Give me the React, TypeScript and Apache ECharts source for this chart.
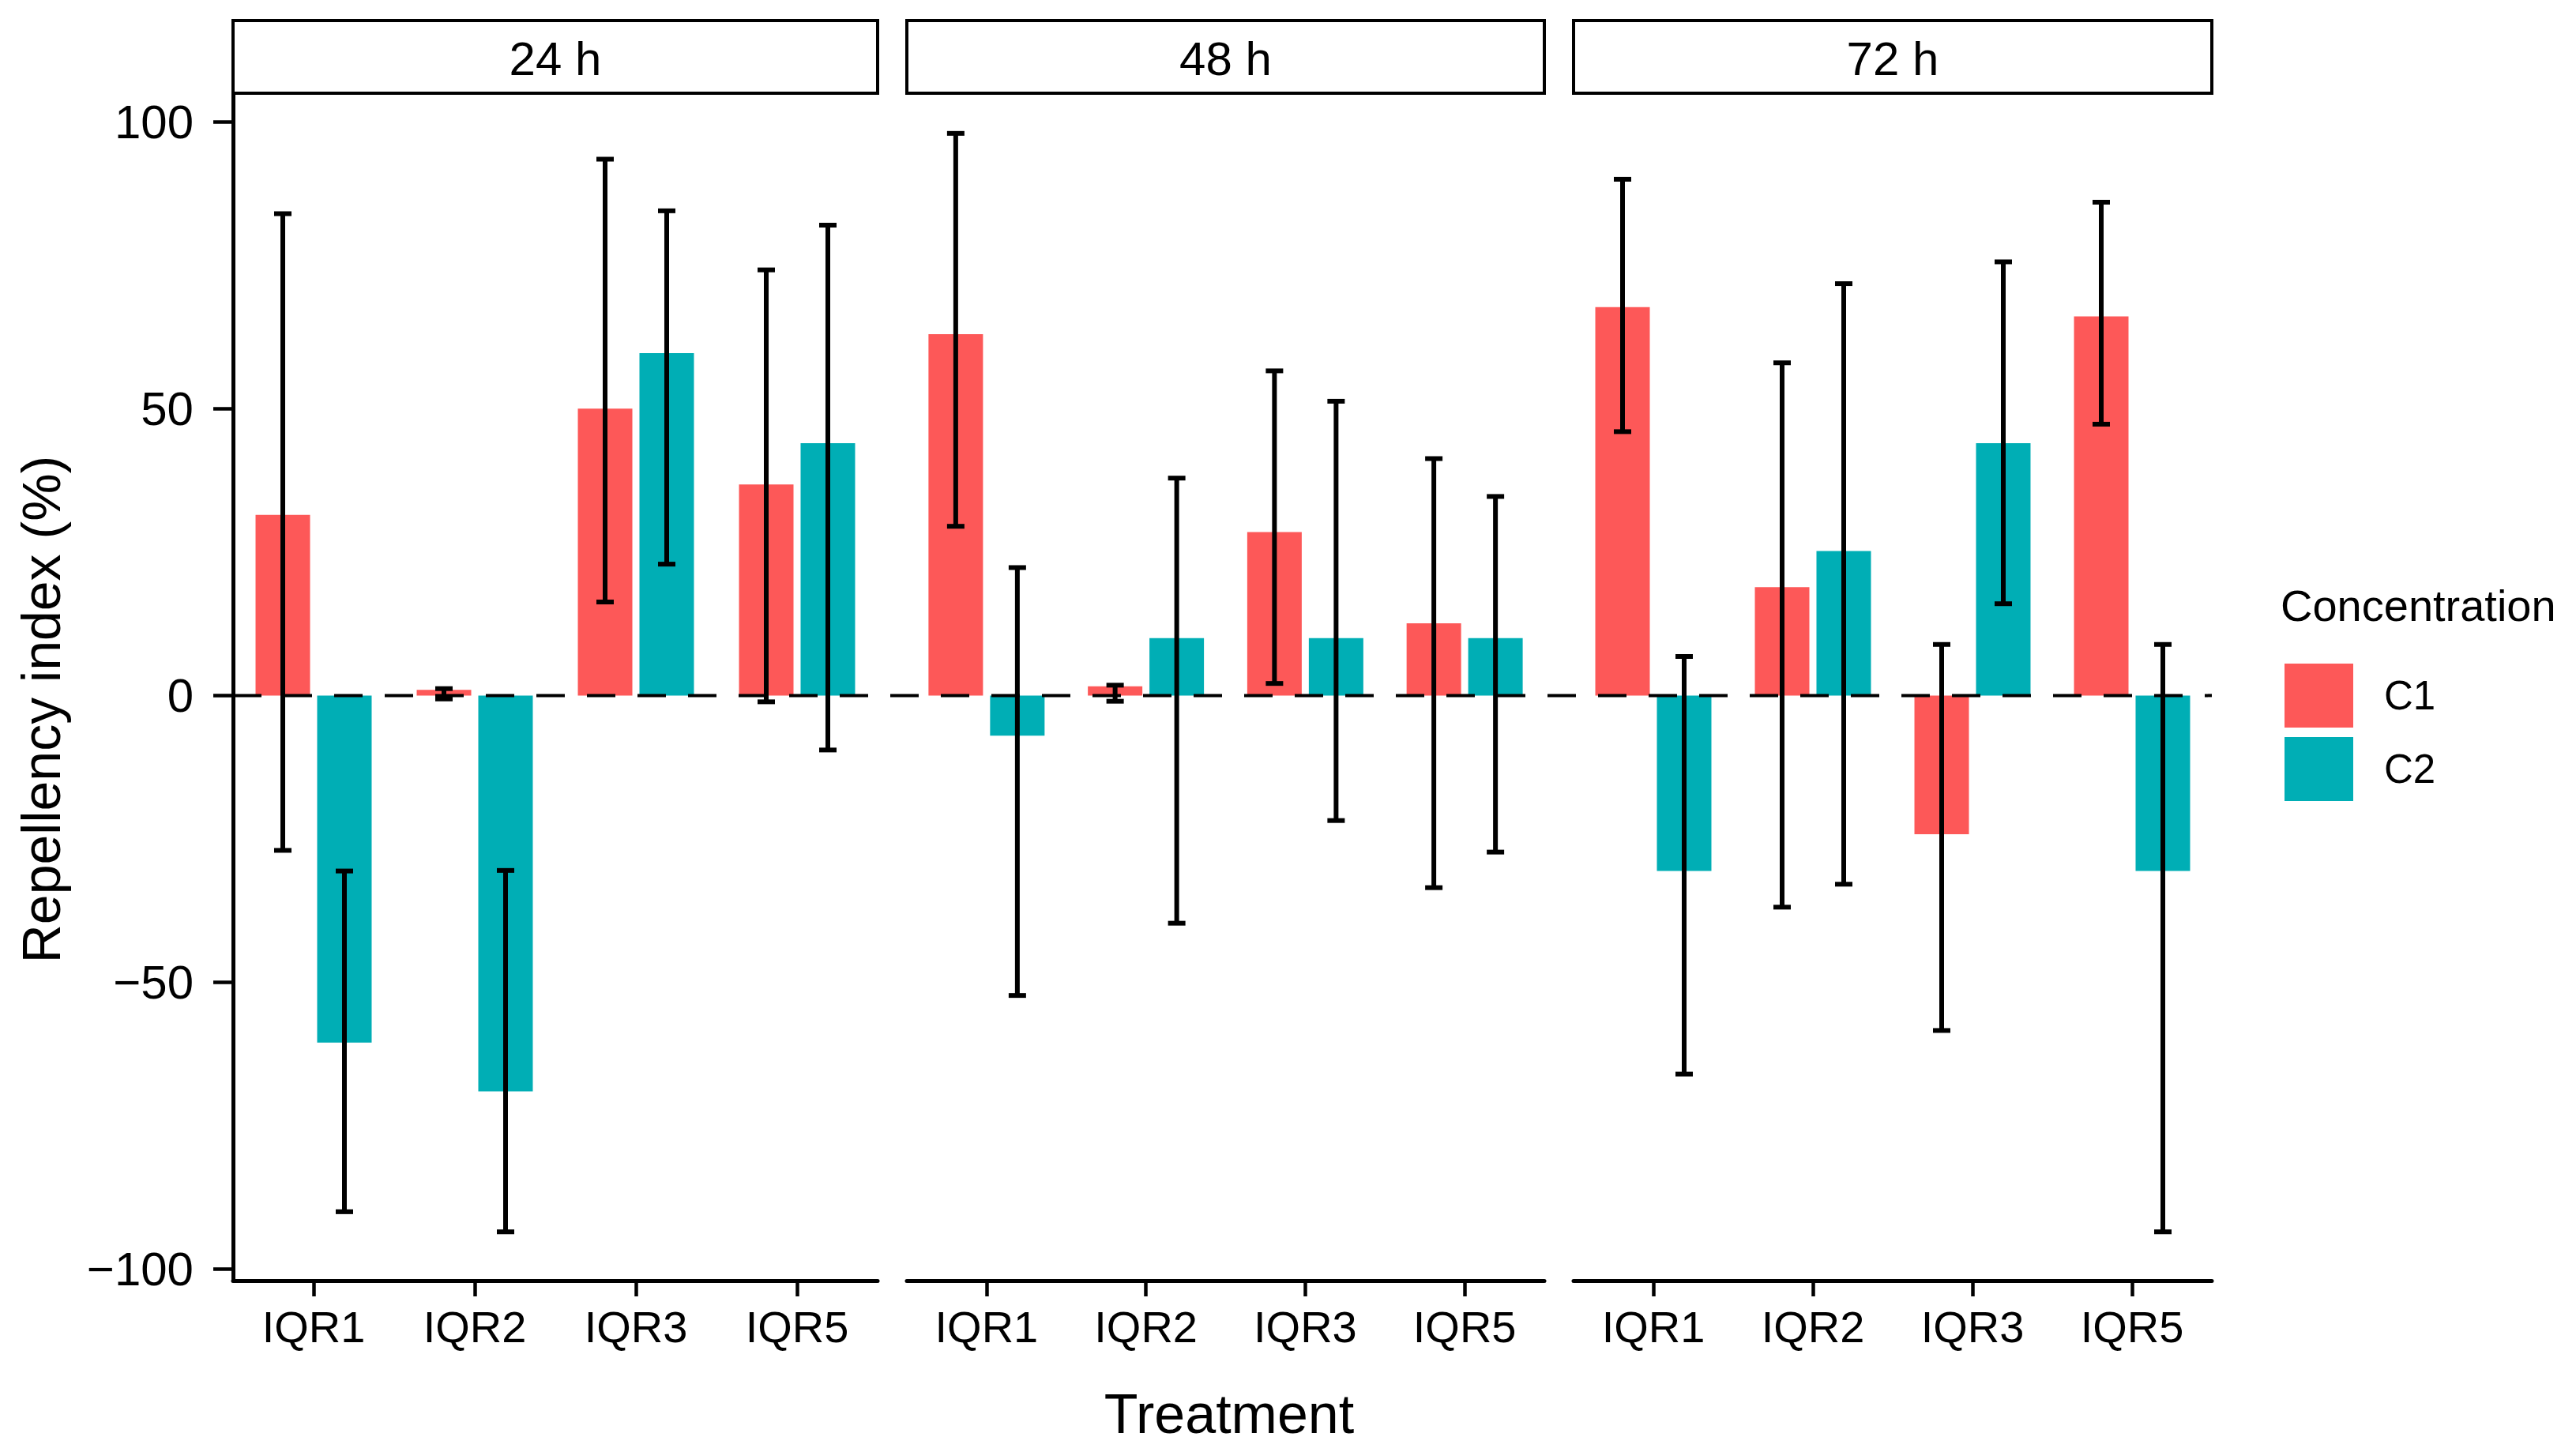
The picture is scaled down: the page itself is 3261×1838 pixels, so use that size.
import React, { useEffect, useRef } from "react";
import * as echarts from "echarts";

// ---- data ----
const panels = ["24 h", "48 h", "72 h"];
const treatments = ["IQR1", "IQR2", "IQR3", "IQR5"];
const concentrations = ["C1", "C2"];
const yTicks = [-100, -50, 0, 50, 100];
const referenceValue = 0;

// mean repellency index per panel (24 h, 48 h, 72 h) x treatment
const c1Mean = [
  [31.5, 1, 50, 36.8],
  [63, 1.6, 28.5, 12.6],
  [67.7, 18.9, -24.2, 66.1],
];
const c1Low = [
  [-27, -0.6, 16.3, -1.1],
  [29.5, -1, 2.1, -33.5],
  [46, -36.9, -58.4, 47.3],
];
const c1High = [
  [84, 1.2, 93.5, 74.2],
  [98, 1.8, 56.6, 41.3],
  [90, 58, 8.9, 86],
];
const c2Mean = [
  [-60.5, -69, 59.7, 44],
  [-7, 10, 10, 10],
  [-30.6, 25.2, 44, -30.6],
];
const c2Low = [
  [-90, -93.5, 22.9, -9.5],
  [-52.3, -39.7, -21.8, -27.3],
  [-66, -32.9, 16, -93.5],
];
const c2High = [
  [-30.6, -30.5, 84.5, 82],
  [22.3, 37.9, 51.3, 34.7],
  [6.8, 71.8, 75.6, 8.9],
];

// ---- layout / style ----
const FONT = "'Liberation Sans', Arial, Helvetica, sans-serif";
const COLORS = ["#FD5858", "#00AEB5"];
const panelLeft = [295, 1148, 1992];
const panelWidth = [816, 807, 808];
const gridTop = 118;
const gridHeight = 1503;
const yMin = -102;
const yMax = 105;
const barWidth = 69;
const barGapPx = 9;

function fmt(v: number) {
  return v < 0 ? "\u2212" + Math.abs(v) : String(v);
}

export default function App() {
  const ref = useRef<HTMLDivElement>(null);

  useEffect(() => {
    document.body.style.margin = "0";
    if (!ref.current) return;
    const chart = echarts.init(ref.current, null, { renderer: "svg" });

    const grids: any[] = [];
    const xAxes: any[] = [];
    const yAxes: any[] = [];
    const series: any[] = [];
    const graphics: any[] = [];

    panels.forEach((p, i) => {
      grids.push({ left: panelLeft[i], top: gridTop, width: panelWidth[i], height: gridHeight });
      xAxes.push({
        gridIndex: i,
        type: "category",
        data: treatments,
        axisLine: { show: true, onZero: false, lineStyle: { color: "#000", width: 5 } },
        axisTick: { show: true, alignWithLabel: true, length: 20, lineStyle: { color: "#000", width: 4.5 } },
        axisLabel: { fontSize: 56, color: "#000", margin: 30, fontFamily: FONT },
        splitLine: { show: false },
      });
      const first = i === 0;
      yAxes.push({
        gridIndex: i,
        type: "value",
        min: yMin,
        max: yMax,
        axisLine: { show: first, onZero: false, lineStyle: { color: "#000", width: 5 } },
        axisTick: {
          show: first,
          length: 25,
          customValues: yTicks,
          lineStyle: { color: "#000", width: 4.5 },
        },
        axisLabel: {
          show: first,
          customValues: yTicks,
          formatter: (v: number) => fmt(v),
          fontSize: 60,
          color: "#000",
          margin: 50,
          fontFamily: FONT,
        },
        splitLine: { show: false },
      });

      const means = [c1Mean[i], c2Mean[i]];
      const lows = [c1Low[i], c2Low[i]];
      const highs = [c1High[i], c2High[i]];
      concentrations.forEach((c, k) => {
        series.push({
          type: "bar",
          name: c,
          xAxisIndex: i,
          yAxisIndex: i,
          data: means[k],
          barWidth: barWidth,
          barGap: Math.round((barGapPx / barWidth) * 100) + "%",
          itemStyle: { color: COLORS[k] },
          z: 2,
        });
      });
      concentrations.forEach((c, k) => {
        const offset = (k === 0 ? -1 : 1) * (barWidth + barGapPx) / 2;
        series.push({
          type: "custom",
          name: c + " error",
          xAxisIndex: i,
          yAxisIndex: i,
          z: 5,
          encode: { x: 0, y: [1, 2] },
          data: treatments.map((_, j) => [j, lows[k][j], highs[k][j]]),
          renderItem: (params: any, api: any) => {
            const idx = api.value(0);
            const top = api.coord([idx, api.value(2)]);
            const bot = api.coord([idx, api.value(1)]);
            const x = top[0] + offset;
            const style = { stroke: "#000", lineWidth: 6 };
            return {
              type: "group",
              children: [
                { type: "line", shape: { x1: x, y1: top[1], x2: x, y2: bot[1] }, style },
                { type: "line", shape: { x1: x - 11, y1: top[1], x2: x + 11, y2: top[1] }, style },
                { type: "line", shape: { x1: x - 11, y1: bot[1], x2: x + 11, y2: bot[1] }, style },
              ],
            };
          },
        });
      });

      // facet strip
      graphics.push({
        type: "rect",
        shape: { x: panelLeft[i], y: 26, width: panelWidth[i], height: gridTop - 26 },
        style: { fill: "#fff", stroke: "#000", lineWidth: 4 },
        z: 10,
      });
      graphics.push({
        type: "text",
        x: panelLeft[i] + panelWidth[i] / 2,
        y: 74,
        style: {
          text: p,
          fontSize: 60,
          fontFamily: FONT,
          fill: "#000",
          align: "center",
          verticalAlign: "middle",
        },
        z: 11,
      });
    });

    // grid spanning all panels for the dashed reference line
    const spanLeft = panelLeft[0];
    const spanWidth = panelLeft[2] + panelWidth[2] - panelLeft[0];
    grids.push({ left: spanLeft, top: gridTop, width: spanWidth, height: gridHeight });
    xAxes.push({ gridIndex: 3, type: "value", min: 0, max: 1, show: false });
    yAxes.push({ gridIndex: 3, type: "value", min: yMin, max: yMax, show: false });
    series.push({
      type: "line",
      name: "reference",
      xAxisIndex: 3,
      yAxisIndex: 3,
      data: [
        [0, referenceValue],
        [1, referenceValue],
      ],
      symbol: "none",
      lineStyle: { color: "#000", width: 4, type: [36, 28] },
      z: 3,
      silent: true,
    });

    // axis titles
    graphics.push({
      type: "text",
      x: 52,
      y: 898,
      rotation: Math.PI / 2,
      style: {
        text: "Repellency index (%)",
        fontSize: 68,
        fontFamily: FONT,
        fill: "#000",
        align: "center",
        verticalAlign: "middle",
      },
    });
    graphics.push({
      type: "text",
      x: 1556,
      y: 1790,
      style: {
        text: "Treatment",
        fontSize: 70,
        fontFamily: FONT,
        fill: "#000",
        align: "center",
        verticalAlign: "middle",
      },
    });
    // legend title
    graphics.push({
      type: "text",
      x: 2887,
      y: 766,
      style: {
        text: "Concentration",
        fontSize: 56,
        fontFamily: FONT,
        fill: "#000",
        align: "left",
        verticalAlign: "middle",
      },
    });

    chart.setOption({
      animation: false,
      backgroundColor: "#fff",
      textStyle: { fontFamily: FONT },
      grid: grids,
      xAxis: xAxes,
      yAxis: yAxes,
      legend: {
        orient: "vertical",
        left: 2887,
        top: 835,
        itemWidth: 87,
        itemHeight: 81,
        itemGap: 12,
        icon: "rect",
        selectedMode: false,
        data: concentrations,
        textStyle: { fontSize: 51, color: "#000", fontFamily: FONT, padding: [0, 0, 0, 34] },
      },
      graphic: graphics,
      series,
    });

    return () => chart.dispose();
  }, []);

  return <div ref={ref} style={{ width: 3261, height: 1838 }} />;
}
